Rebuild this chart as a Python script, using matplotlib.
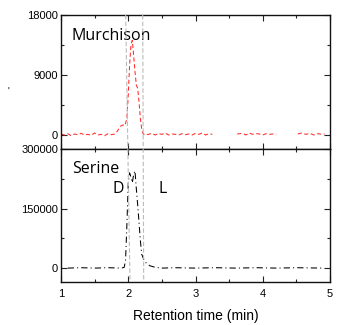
import numpy as np
import matplotlib
matplotlib.use("Agg")
import matplotlib.pyplot as plt
from matplotlib.lines import Line2D
from matplotlib.ticker import MultipleLocator

plt.rcParams['font.family'] = ['Liberation Sans', 'DejaVu Sans']

# Murchison extract (red trace); NaN marks gaps in the record
murch_t = [1.00, 1.05, 1.10, 1.15, 1.20, 1.25, 1.30, 1.35, 1.40, 1.45, 1.50, 1.55,
           1.60, 1.65, 1.70, 1.75, 1.80, 1.84, 1.88, 1.92, 1.95, 1.98, 2.00, 2.02,
           2.04, 2.06, 2.08, 2.10, 2.12, 2.14, 2.16, 2.18, 2.20, 2.22, 2.25, 2.30,
           2.35, 2.40, 2.45, 2.50, 2.55, 2.60, 2.65, 2.70, 2.75, 2.80, 2.85, 2.90,
           2.95, 3.00, 3.05, 3.10, 3.15, 3.20, 3.25, 3.30, 3.45, 3.62, 3.70, 3.75,
           3.80, 3.85, 3.90, 3.95, 4.00, 4.05, 4.10, 4.15, 4.20, 4.27, 4.40, 4.52,
           4.58, 4.64, 4.70, 4.76, 4.82, 4.88, 4.92]
murch_v = [150, 0, 200, -100, 150, 50, 250, 0, 100, -50, 300, 0,
           100, -100, 200, 50, 150, 600, 1300, 1500, 1400, 2500, 6000, 10500,
           13500, 14200, 12000, 9500, 7500, 7000, 5000, 2500, 900, 200, 0, 100,
           250, 0, 200, 100, 300, 0, 150, 100, 0, 200, 50, 150,
           0, 250, 100, 300, 0, 200, 100, np.nan, np.nan, 150, 250, 0,
           300, 100, 200, 150, 0, 200, 100, 150, 0, np.nan, np.nan, 150,
           300, 100, 250, 0, 200, 100, 150]

# Serine standard (black trace)
ser_t = [1.10, 1.30, 1.50, 1.70, 1.90, 1.94, 1.96, 1.98, 2.00, 2.02, 2.04, 2.06,
         2.08, 2.10, 2.12, 2.14, 2.16, 2.18, 2.20, 2.23, 2.27, 2.32, 2.40, 2.50,
         2.70, 3.00, 3.30, 3.60, 3.90, 4.20, 4.50, 4.90]
ser_v = [0, 1000, 0, 1000, 0, 2000, 20000, 110000, 215000, 240000, 230000, 215000,
         235000, 245000, 200000, 160000, 115000, 70000, 35000, 22000, 12000, 6000, 2000, 0,
         1000, 0, 1000, 0, 1000, 0, 1000, 0]

xticks = [1, 2, 3, 4, 5]
top_yticks = [0, 9000, 18000]
bot_yticks = [0, 150000, 300000]

fig = plt.figure(figsize=(3.37, 3.25), dpi=100)
left, right = 61 / 337, 330 / 337
ax_top = fig.add_axes([left, 1 - 149 / 325, right - left, 134 / 325])
ax_bot = fig.add_axes([left, 1 - 282 / 325, right - left, 133 / 325], sharex=ax_top)

ax_top.plot(murch_t, murch_v, color='#ff2a2a', lw=0.75, ls=(0, (4, 2.5)))
ax_bot.plot(ser_t, ser_v, color='black', lw=0.75, ls=(0, (6, 3, 1, 3)))

ax_top.set_ylim(-2100, 18000)
ax_bot.set_ylim(-35000, 300000)
ax_top.set_xlim(1, 5)

for ax, yt in ((ax_top, top_yticks), (ax_bot, bot_yticks)):
    ax.set_yticks(yt)
    ax.set_yticklabels([str(v) for v in yt], fontsize=8)
    ax.yaxis.set_minor_locator(MultipleLocator(yt[1] / 2))
    ax.xaxis.set_minor_locator(MultipleLocator(0.5))
    ax.tick_params(which='both', direction='in', top=True, right=True,
                   width=0.8, color='#222222')
    ax.tick_params(which='major', length=4, pad=2)
    ax.tick_params(which='minor', length=2)
    for s in ax.spines.values():
        s.set_linewidth(1.0)
        s.set_color('#111111')

ax_top.set_xticks(xticks)
ax_top.tick_params(labelbottom=False)
ax_bot.set_xticks(xticks)
ax_bot.set_xticklabels([str(v) for v in xticks], fontsize=8)
ax_bot.tick_params(axis='x', pad=5)
ax_bot.set_xlabel('Retention time (min)', fontsize=10, labelpad=7)

label_font = ['Open Sans', 'DejaVu Sans']
ax_top.text(0.04, 0.84, 'Murchison', transform=ax_top.transAxes, fontsize=11.5,
            family=label_font, va='center', ha='left')
ax_bot.text(0.04, 0.85, 'Serine', transform=ax_bot.transAxes, fontsize=11.5,
            family=label_font, va='center', ha='left')
ax_bot.text(118 / 337, 1 - 189 / 325, 'D', transform=fig.transFigure, fontsize=11.5,
            family=label_font, va='center', ha='center')
ax_bot.text(163 / 337, 1 - 189 / 325, 'L', transform=fig.transFigure, fontsize=11.5,
            family=label_font, va='center', ha='center')

fig.text(8 / 337, 1 - 92 / 325, "'", fontsize=7, ha='center', va='center')

# retention window markers spanning both panels
for (x0, x1) in ((125.7, 130.0), (142.7, 143.7)):
    fig.add_artist(Line2D([x0 / 337, x1 / 337], [1 - 15 / 325, 1 - 282 / 325],
                          transform=fig.transFigure, color='#bbbbbb', lw=0.8,
                          ls=(0, (4, 2))))

fig.savefig('out.png', dpi=100)
